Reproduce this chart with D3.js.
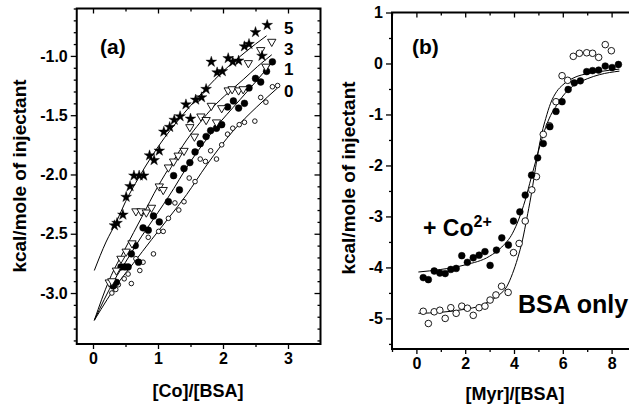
<!DOCTYPE html>
<html>
<head>
<meta charset="utf-8">
<script src="https://cdn.jsdelivr.net/npm/d3@7"></script>
<style>
  body { margin: 0; background: #fff; }
  svg { display: block; }
</style>
</head>
<body>
<div id="chart"></div>
<script>
/** Canvas size. */
const WIDTH = 629;
const HEIGHT = 411;
const FONT = "'Liberation Sans', Arial, Helvetica, sans-serif";

// ---- panel (a) data: heat per injection vs [Co]/[BSA] ----
const a0X = [0.29, 0.35, 0.39, 0.48, 0.54, 0.59, 0.66, 0.72, 0.77, 0.85, 0.93, 1.01, 1.08, 1.16, 1.26, 1.32, 1.40, 1.48, 1.57, 1.65, 1.73, 1.81, 1.90, 1.98, 2.07, 2.15, 2.25, 2.33, 2.49, 2.58, 2.66, 2.76, 2.84];
const a0Y = [-3.00, -2.97, -2.93, -2.88, -2.84, -2.92, -2.71, -2.81, -2.74, -2.53, -2.67, -2.48, -2.48, -2.37, -2.24, -2.30, -2.23, -2.03, -2.06, -1.87, -1.89, -1.80, -1.87, -1.75, -1.66, -1.61, -1.58, -1.56, -1.55, -1.35, -1.39, -1.26, -1.25];

const a1X = [0.31, 0.36, 0.43, 0.49, 0.54, 0.59, 0.65, 0.70, 0.77, 0.85, 0.93, 1.02, 1.16, 1.24, 1.33, 1.40, 1.49, 1.57, 1.65, 1.74, 1.81, 1.90, 1.98, 2.07, 2.16, 2.24, 2.33, 2.40, 2.50, 2.58, 2.67, 2.76];
const a1Y = [-2.94, -2.91, -2.78, -2.78, -2.78, -2.67, -2.60, -2.74, -2.45, -2.47, -2.35, -2.40, -2.23, -2.01, -2.13, -1.95, -1.90, -1.81, -1.74, -1.68, -1.63, -1.61, -1.58, -1.43, -1.38, -1.44, -1.40, -1.27, -1.19, -1.22, -1.13, -1.05];

const a3X = [0.25, 0.29, 0.36, 0.43, 0.51, 0.60, 0.66, 0.74, 0.82, 0.90, 1.02, 1.08, 1.16, 1.24, 1.31, 1.40, 1.49, 1.56, 1.66, 1.74, 1.82, 1.90, 1.98, 2.08, 2.14, 2.24, 2.31, 2.39, 2.58, 2.66, 2.75];
const a3Y = [-2.91, -2.90, -2.81, -2.71, -2.65, -2.58, -2.31, -2.31, -2.32, -2.28, -2.10, -2.13, -1.94, -1.89, -1.84, -1.80, -1.60, -1.68, -1.51, -1.54, -1.42, -1.56, -1.44, -1.29, -1.28, -1.29, -1.28, -1.06, -0.95, -1.09, -0.88];

const a5X = [0.33, 0.37, 0.46, 0.51, 0.57, 0.63, 0.71, 0.78, 0.87, 0.94, 1.02, 1.09, 1.18, 1.25, 1.34, 1.43, 1.50, 1.58, 1.67, 1.74, 1.82, 1.91, 1.99, 2.08, 2.15, 2.24, 2.33, 2.40, 2.50, 2.60, 2.68];
const a5Y = [-2.43, -2.41, -2.34, -2.19, -2.10, -2.01, -2.01, -2.01, -1.84, -1.88, -1.80, -1.64, -1.60, -1.54, -1.51, -1.41, -1.53, -1.37, -1.35, -1.28, -1.05, -1.14, -1.13, -1.02, -1.05, -1.04, -0.92, -0.90, -0.80, -1.00, -0.74];

// fitted curves
const fit0X = [0.02, 0.42, 0.62, 0.90, 1.16, 1.44, 1.75, 2.16, 2.52, 2.84];
const fit0Y = [-3.23, -2.89, -2.75, -2.55, -2.37, -2.17, -1.92, -1.63, -1.43, -1.27];
const fit1X = [0.02, 0.33, 0.50, 0.75, 1.00, 1.16, 1.49, 1.85, 2.26, 2.50, 2.78];
const fit1Y = [-3.23, -2.89, -2.74, -2.52, -2.32, -2.19, -1.90, -1.63, -1.37, -1.22, -1.04];
const fit3X = [0.02, 0.25, 0.50, 0.75, 1.00, 1.22, 1.44, 1.65, 1.85, 2.08, 2.31, 2.53, 2.75];
const fit3Y = [-3.23, -2.89, -2.62, -2.36, -2.10, -1.90, -1.71, -1.56, -1.43, -1.31, -1.20, -1.09, -0.99];
const fit5X = [0.02, 0.20, 0.36, 0.50, 0.70, 0.90, 1.10, 1.30, 1.50, 1.75, 2.00, 2.25, 2.50, 2.67];
const fit5Y = [-2.81, -2.57, -2.40, -2.23, -2.03, -1.85, -1.69, -1.55, -1.42, -1.27, -1.13, -1.01, -0.90, -0.83];

const seriesLabels = ["5", "3", "1", "0"];

const aXTicks = [0, 1, 2, 3];
const aXLabels = ["0", "1", "2", "3"];
const aYTicks = [-3.0, -2.5, -2.0, -1.5, -1.0];
const aYLabels = ["-3.0", "-2.5", "-2.0", "-1.5", "-1.0"];

// ---- panel (b) data: heat per injection vs [Myr]/[BSA] ----
const bsaX = [0.28, 0.49, 0.73, 0.96, 1.18, 1.41, 1.63, 1.86, 2.09, 2.33, 2.57, 2.81, 3.02, 3.26, 3.49, 3.76, 3.98, 4.21, 4.46, 4.73, 4.92, 5.20, 5.45, 5.72, 5.97, 6.20, 6.43, 6.68, 6.98, 7.22, 7.47, 7.74, 7.99];
const bsaY = [-4.86, -5.10, -4.87, -4.84, -5.00, -4.79, -4.90, -4.76, -4.80, -4.94, -4.79, -4.76, -4.64, -4.54, -4.37, -4.49, -3.71, -3.53, -3.09, -2.48, -2.22, -1.39, -1.22, -0.75, -0.24, -0.33, 0.14, 0.20, 0.21, 0.20, 0.12, 0.37, 0.25];

const coX = [0.28, 0.49, 0.73, 0.96, 1.18, 1.41, 1.63, 1.86, 2.09, 2.33, 2.57, 2.81, 3.02, 3.28, 3.50, 3.77, 3.98, 4.24, 4.46, 4.72, 4.97, 5.20, 5.47, 5.72, 5.97, 6.22, 6.47, 6.72, 6.98, 7.22, 7.47, 7.74, 8.02, 8.28];
const coY = [-4.20, -4.24, -4.07, -4.11, -4.12, -4.04, -4.02, -3.77, -3.90, -3.81, -3.76, -3.69, -3.96, -3.66, -3.42, -3.56, -3.09, -2.91, -2.58, -2.19, -1.85, -1.57, -1.24, -0.94, -0.75, -0.51, -0.38, -0.34, -0.16, -0.14, -0.13, -0.05, -0.08, -0.02];

const fitBsaX = [0.08, 1.0, 2.0, 2.57, 3.0, 3.39, 3.7, 3.94, 4.15, 4.35, 4.52, 4.69, 4.85, 5.0, 5.15, 5.3, 5.5, 5.75, 6.0, 6.5, 7.0, 7.5, 8.32];
const fitBsaY = [-4.90, -4.88, -4.82, -4.76, -4.66, -4.54, -4.38, -4.12, -3.82, -3.46, -3.05, -2.62, -2.15, -1.70, -1.35, -1.08, -0.78, -0.55, -0.42, -0.27, -0.20, -0.16, -0.11];
const fitCoX = [0.08, 1.0, 2.0, 3.0, 3.5, 3.94, 4.2, 4.46, 4.7, 4.9, 5.1, 5.3, 5.5, 5.75, 6.0, 6.4, 7.0, 7.5, 8.32];
const fitCoY = [-4.09, -4.04, -3.95, -3.78, -3.60, -3.33, -3.05, -2.68, -2.25, -1.90, -1.55, -1.25, -1.02, -0.82, -0.64, -0.45, -0.30, -0.22, -0.15];

const bXTicks = [0, 2, 4, 6, 8];
const bXLabels = ["0", "2", "4", "6", "8"];
const bYTicks = [-5, -4, -3, -2, -1, 0, 1];
const bYLabels = ["-5", "-4", "-3", "-2", "-1", "0", "1"];

const zip = (xs, ys) => xs.map((x, i) => [x, ys[i]]);

// Create the svg element
const svg = d3.select("#chart").append("svg")
    .attr("width", WIDTH)
    .attr("height", HEIGHT)
    .style("font-family", FONT)
    .style("font-weight", "bold");

svg.append("rect")
    .attr("width", WIDTH)
    .attr("height", HEIGHT)
    .attr("fill", "white");

/** Draw frame, ticks and tick labels for one panel. */
function drawAxes(x, y, opt) {
    const g = svg.append("g");
    const [x0, x1] = x.range();
    const [y0, y1] = y.range();

    const put = (axis, tx, ty) => {
        const a = g.append("g").attr("transform", `translate(${tx},${ty})`).call(axis);
        a.select(".domain").remove();
        a.selectAll("line").attr("stroke", "#000").attr("stroke-width", 1.3);
        a.selectAll("text")
            .attr("fill", "#000")
            .style("font-family", FONT)
            .style("font-weight", "bold")
            .style("font-size", "16px");
        return a;
    };

    // bottom (outward) + labels
    put(d3.axisBottom(x).tickValues(opt.xTicks).tickSize(5).tickPadding(4)
        .tickFormat((d, i) => opt.xLabels[i]), 0, y0);
    put(d3.axisBottom(x).tickValues(opt.xMinor).tickSize(3).tickFormat(""), 0, y0);
    // left (outward) + labels
    put(d3.axisLeft(y).tickValues(opt.yTicks).tickSize(6).tickPadding(3)
        .tickFormat((d, i) => opt.yLabels[i]), x0, 0);
    put(d3.axisLeft(y).tickValues(opt.yMinor).tickSize(3).tickFormat(""), x0, 0);
    // top and right mirror ticks (inward)
    put(d3.axisTop(x).tickValues(opt.xTicks).tickSize(-5).tickFormat(""), 0, y1);
    put(d3.axisTop(x).tickValues(opt.xMinor).tickSize(-3).tickFormat(""), 0, y1);
    put(d3.axisRight(y).tickValues(opt.yTicks).tickSize(-6).tickFormat(""), x1, 0);
    put(d3.axisRight(y).tickValues(opt.yMinor).tickSize(-3).tickFormat(""), x1, 0);

    // frame
    g.append("rect")
        .attr("x", x0)
        .attr("y", y1)
        .attr("width", x1 - x0)
        .attr("height", y0 - y1)
        .attr("fill", "none")
        .attr("stroke", "#000")
        .attr("stroke-width", 2);
}

const drawFit = (x, y, xs, ys) => {
    svg.append("path")
        .datum(zip(xs, ys))
        .attr("fill", "none")
        .attr("stroke", "#000")
        .attr("stroke-width", 1)
        .attr("d", d3.line().x(d => x(d[0])).y(d => y(d[1])).curve(d3.curveMonotoneX));
};

const drawCircles = (x, y, xs, ys, r, filled) => {
    svg.append("g")
        .selectAll("circle")
        .data(zip(xs, ys))
        .join("circle")
        .attr("cx", d => x(d[0]))
        .attr("cy", d => y(d[1]))
        .attr("r", r)
        .attr("fill", filled ? "#000" : "#fff")
        .attr("stroke", "#000")
        .attr("stroke-width", filled ? 0.5 : 0.9);
};

const drawSymbols = (x, y, xs, ys, type, size, filled, rot) => {
    svg.append("g")
        .selectAll("path")
        .data(zip(xs, ys))
        .join("path")
        .attr("transform", d => `translate(${x(d[0])},${y(d[1])}) rotate(${rot})`)
        .attr("d", d3.symbol().type(type).size(size))
        .attr("fill", filled ? "#000" : "#fff")
        .attr("stroke", "#000")
        .attr("stroke-width", filled ? 0.4 : 0.9);
};

// ================= panel (a) =================
const xa = d3.scaleLinear().domain([-0.25, 3.5]).range([76.75, 320.5]);
const ya = d3.scaleLinear().domain([-3.43, -0.6]).range([344, 8.5]);

drawAxes(xa, ya, {
    xTicks: aXTicks, xLabels: aXLabels, xMinor: [0.5, 1.5, 2.5],
    yTicks: aYTicks, yLabels: aYLabels,
    yMinor: d3.range(-34, -5).map(v => v / 10).filter(v => !aYTicks.some(t => Math.abs(t - v) < 1e-6))
});

drawFit(xa, ya, fit0X, fit0Y);
drawFit(xa, ya, fit1X, fit1Y);
drawFit(xa, ya, fit3X, fit3Y);
drawFit(xa, ya, fit5X, fit5Y);

drawCircles(xa, ya, a0X, a0Y, 2.3, false);
drawCircles(xa, ya, a1X, a1Y, 3.4, true);
drawSymbols(xa, ya, a3X, a3Y, d3.symbolTriangle, 30, false, 180);
drawSymbols(xa, ya, a5X, a5Y, d3.symbolStar, 36, true, 0);

svg.append("text")
    .attr("x", 100)
    .attr("y", 54)
    .style("font-size", "21px")
    .text("(a)");

svg.selectAll(".serieslabel")
    .data(seriesLabels)
    .join("text")
    .attr("x", 284)
    .attr("y", (d, i) => [34, 55, 75, 97][i])
    .style("font-size", "17px")
    .text(d => d);

svg.append("text")
    .attr("transform", "translate(26,176) rotate(-90)")
    .attr("text-anchor", "middle")
    .style("font-size", "19px")
    .text("kcal/mole of injectant");

svg.append("text")
    .attr("x", 198)
    .attr("y", 397)
    .attr("text-anchor", "middle")
    .style("font-size", "18px")
    .text("[Co]/[BSA]");

// ================= panel (b) =================
const xb = d3.scaleLinear().domain([-1, 9]).range([392, 636]);
const yb = d3.scaleLinear().domain([-5.6, 1]).range([349, 12.5]);

drawAxes(xb, yb, {
    xTicks: bXTicks, xLabels: bXLabels, xMinor: [-1, 1, 3, 5, 7, 9],
    yTicks: bYTicks, yLabels: bYLabels,
    yMinor: [-5.5, -4.5, -3.5, -2.5, -1.5, -0.5, 0.5]
});

drawFit(xb, yb, fitBsaX, fitBsaY);
drawFit(xb, yb, fitCoX, fitCoY);

drawCircles(xb, yb, bsaX, bsaY, 3.3, false);
drawCircles(xb, yb, coX, coY, 3.4, true);

svg.append("text")
    .attr("x", 412)
    .attr("y", 54)
    .style("font-size", "21px")
    .text("(b)");

const coLabel = svg.append("text")
    .attr("x", 423)
    .attr("y", 236)
    .style("font-size", "23px");
coLabel.append("tspan").text("+ Co");
coLabel.append("tspan").attr("dy", -9).style("font-size", "16px").text("2+");

svg.append("text")
    .attr("x", 518)
    .attr("y", 313)
    .style("font-size", "25px")
    .text("BSA only");

svg.append("text")
    .attr("transform", "translate(355,178) rotate(-90)")
    .attr("text-anchor", "middle")
    .style("font-size", "19px")
    .text("kcal/mole of injectant");

svg.append("text")
    .attr("x", 515)
    .attr("y", 400)
    .attr("text-anchor", "middle")
    .style("font-size", "18px")
    .text("[Myr]/[BSA]");
</script>
</body>
</html>
